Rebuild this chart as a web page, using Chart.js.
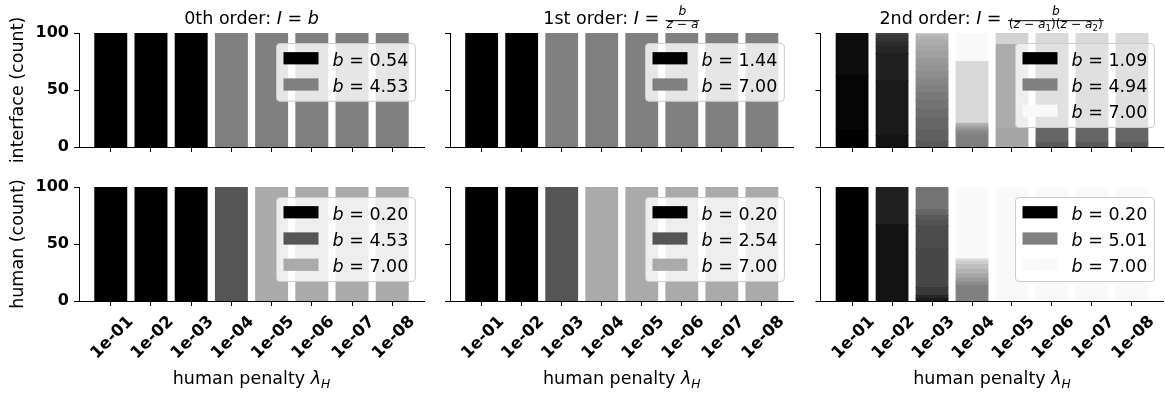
<!DOCTYPE html>
<html>
<head>
<meta charset="utf-8">
<script src="https://cdn.jsdelivr.net/npm/chart.js@4.4.1/dist/chart.umd.min.js"></script>
<style>
  html, body { margin: 0; padding: 0; background: #fff; }
  #fig { position: relative; width: 1165px; height: 395px; overflow: hidden; background: #fff; }
  #fig canvas { position: absolute; left: 0; top: 0; }
</style>
</head>
<body>
<div id="fig"></div>
<script>
// ---------------------------------------------------------------------------
// Data
// ---------------------------------------------------------------------------
const LAMBDA_LABELS = ['1e-01', '1e-02', '1e-03', '1e-04', '1e-05', '1e-06', '1e-07', '1e-08'];

// 0th order model, fitted b per run (rows: distinct b, ascending; cols: lambda_H)
const B0_INTERFACE = [0.54, 4.53];
const COUNTS0_INTERFACE = [
  [100, 100, 100, 0, 0, 0, 0, 0],
  [0, 0, 0, 100, 100, 100, 100, 100],
];
const B0_HUMAN = [0.20, 4.53, 7.00];
const COUNTS0_HUMAN = [
  [100, 100, 100, 0, 0, 0, 0, 0],
  [0, 0, 0, 100, 0, 0, 0, 0],
  [0, 0, 0, 0, 100, 100, 100, 100],
];

// 1st order model
const B1_INTERFACE = [1.44, 7.00];
const COUNTS1_INTERFACE = [
  [100, 100, 0, 0, 0, 0, 0, 0],
  [0, 0, 100, 100, 100, 100, 100, 100],
];
const B1_HUMAN = [0.20, 2.54, 7.00];
const COUNTS1_HUMAN = [
  [100, 100, 0, 0, 0, 0, 0, 0],
  [0, 0, 100, 0, 0, 0, 0, 0],
  [0, 0, 0, 100, 100, 100, 100, 100],
];

// 2nd order model: 40 distinct fitted b values (ascending); the legend names
// the smallest, the median and the largest of them.
const B2_INTERFACE_NAMED = [1.09, 4.94, 7.00];
const COUNTS2_INTERFACE = [
  [15, 0, 0, 0, 0, 0, 0, 0],
  [48, 0, 0, 0, 0, 0, 0, 0],
  [37, 0, 0, 0, 0, 0, 0, 0],
  [0, 10, 0, 0, 0, 0, 0, 0],
  [0, 48, 0, 0, 0, 0, 0, 0],
  [0, 24, 0, 0, 0, 0, 0, 0],
  [0, 6, 0, 0, 0, 0, 0, 0],
  [0, 4, 0, 0, 0, 0, 0, 0],
  [0, 3, 0, 0, 0, 0, 0, 0],
  [0, 3, 0, 0, 0, 0, 0, 0],
  [0, 2, 0, 0, 0, 0, 0, 0],
  [0, 0, 0, 0, 0, 0, 0, 0],
  [0, 0, 0, 0, 0, 0, 0, 0],
  [0, 0, 0, 0, 0, 0, 0, 0],
  [0, 0, 5, 0, 0, 4, 4, 4],
  [0, 0, 10, 0, 0, 0, 0, 0],
  [0, 0, 10, 0, 0, 86, 86, 86],
  [0, 0, 8, 0, 0, 0, 0, 0],
  [0, 0, 8, 0, 0, 0, 0, 0],
  [0, 0, 7, 0, 0, 0, 0, 0],
  [0, 0, 6, 11, 0, 0, 0, 0],
  [0, 0, 6, 2, 0, 0, 0, 0],
  [0, 0, 6, 2, 0, 0, 0, 0],
  [0, 0, 6, 0, 0, 0, 0, 0],
  [0, 0, 6, 2, 0, 0, 0, 0],
  [0, 0, 6, 0, 0, 0, 0, 0],
  [0, 0, 5, 2, 16, 0, 0, 0],
  [0, 0, 5, 0, 74, 0, 0, 0],
  [0, 0, 3, 2, 0, 0, 0, 0],
  [0, 0, 2, 0, 0, 0, 0, 0],
  [0, 0, 0, 0, 0, 0, 0, 0],
  [0, 0, 0, 0, 0, 0, 0, 0],
  [0, 0, 0, 0, 0, 0, 0, 0],
  [0, 0, 1, 0, 10, 0, 0, 0],
  [0, 0, 0, 54, 0, 10, 10, 10],
  [0, 0, 0, 0, 0, 0, 0, 0],
  [0, 0, 0, 0, 0, 0, 0, 0],
  [0, 0, 0, 0, 0, 0, 0, 0],
  [0, 0, 0, 0, 0, 0, 0, 0],
  [0, 0, 0, 25, 0, 0, 0, 0],
];
const B2_HUMAN_NAMED = [0.20, 5.01, 7.00];
const COUNTS2_HUMAN = [
  [100, 0, 0, 0, 0, 0, 0, 0],
  [0, 0, 0, 0, 0, 0, 0, 0],
  [0, 0, 0, 0, 0, 0, 0, 0],
  [0, 67, 0, 0, 0, 0, 0, 0],
  [0, 0, 2, 0, 0, 0, 0, 0],
  [0, 33, 0, 0, 0, 0, 0, 0],
  [0, 0, 3, 0, 0, 0, 0, 0],
  [0, 0, 0, 0, 0, 0, 0, 0],
  [0, 0, 0, 0, 0, 0, 0, 0],
  [0, 0, 7, 0, 0, 0, 0, 0],
  [0, 0, 0, 0, 0, 0, 0, 0],
  [0, 0, 34, 0, 0, 0, 0, 0],
  [0, 0, 20, 0, 0, 0, 0, 0],
  [0, 0, 5, 0, 0, 0, 0, 0],
  [0, 0, 4, 0, 0, 0, 0, 0],
  [0, 0, 0, 0, 0, 0, 0, 0],
  [0, 0, 5, 0, 0, 0, 0, 0],
  [0, 0, 0, 0, 0, 0, 0, 0],
  [0, 0, 20, 0, 0, 0, 0, 0],
  [0, 0, 0, 0, 0, 0, 0, 0],
  [0, 0, 0, 14, 0, 0, 0, 0],
  [0, 0, 0, 0, 0, 0, 0, 0],
  [0, 0, 0, 3, 0, 0, 0, 0],
  [0, 0, 0, 0, 0, 0, 0, 0],
  [0, 0, 0, 3, 0, 0, 0, 0],
  [0, 0, 0, 0, 0, 0, 0, 0],
  [0, 0, 0, 4, 0, 0, 0, 0],
  [0, 0, 0, 0, 0, 0, 0, 0],
  [0, 0, 0, 4, 0, 0, 0, 0],
  [0, 0, 0, 0, 0, 0, 0, 0],
  [0, 0, 0, 4, 0, 0, 0, 0],
  [0, 0, 0, 0, 0, 0, 0, 0],
  [0, 0, 0, 3, 0, 0, 0, 0],
  [0, 0, 0, 0, 0, 0, 0, 0],
  [0, 0, 0, 2, 0, 0, 0, 0],
  [0, 0, 0, 0, 0, 0, 0, 0],
  [0, 0, 0, 0, 0, 0, 0, 0],
  [0, 0, 0, 0, 0, 0, 0, 0],
  [0, 0, 0, 0, 0, 0, 0, 0],
  [0, 0, 0, 63, 100, 100, 100, 100],
];

// ---------------------------------------------------------------------------
// Text (runs: plain / italic / sub-scripted pieces, plus a fraction form)
// ---------------------------------------------------------------------------
const TITLE_0 = [{ t: '0th order: ' }, { t: 'I', it: true }, { t: ' = ' }, { t: 'b', it: true }];
const TITLE_1 = [{ t: '1st order: ' }, { t: 'I', it: true }, { t: ' = ' },
  { num: [{ t: 'b', it: true }], den: [{ t: 'z', it: true }, { t: ' − ' }, { t: 'a', it: true }] }];
const TITLE_2 = [{ t: '2nd order: ' }, { t: 'I', it: true }, { t: ' = ' },
  { num: [{ t: 'b', it: true }],
    den: [{ t: '(' }, { t: 'z', it: true }, { t: ' − ' }, { t: 'a', it: true }, { t: '1', s: 0.7, dy: 0.22 },
          { t: ')(' }, { t: 'z', it: true }, { t: ' − ' }, { t: 'a', it: true }, { t: '2', s: 0.7, dy: 0.22 }, { t: ')' }] }];
const Y_LABEL_TOP = [{ t: 'interface (count)' }];
const Y_LABEL_BOTTOM = [{ t: 'human (count)' }];
const X_LABEL = [{ t: 'human penalty ' }, { t: 'λ', it: true }, { t: 'H', it: true, s: 0.7, dy: 0.22 }];

// ---------------------------------------------------------------------------
// Layout and style
// ---------------------------------------------------------------------------
const W = 1165, H = 395;
const FAMILY = '"DejaVu Sans", "Liberation Sans", sans-serif';
const TEXT_SIZE = 17.5;
const TICK_SIZE = 16;
const XTICK_SIZE = 16.5;
const COLS = [[79, 424], [450, 793.5], [820.5, 1163.5]];   // plot-area x extents
const ROWS = [[33, 147], [187, 301]];                        // plot-area y extents

function cssFont(size, italic, bold) {
  return (italic ? 'italic ' : '') + (bold ? 'bold ' : '') + size + 'px ' + FAMILY;
}

// rank-based grey ramp, black for the smallest b
function greyFor(rank, n) {
  const v = Math.min(255, Math.floor(rank / n * 256));
  return 'rgb(' + v + ',' + v + ',' + v + ')';
}

function runWidth(ctx, r, size) {
  if (r.num) {
    const fs = size * 0.7;
    return Math.max(seqWidth(ctx, r.num, fs), seqWidth(ctx, r.den, fs)) + size * 0.2;
  }
  ctx.font = cssFont(size * (r.s || 1), r.it);
  return ctx.measureText(r.t).width;
}
function seqWidth(ctx, runs, size) {
  return runs.reduce((w, r) => w + runWidth(ctx, r, size), 0);
}
function drawSeq(ctx, runs, x, y, size) {
  for (const r of runs) {
    const w = runWidth(ctx, r, size);
    if (r.num) {
      const fs = size * 0.7;
      const bar = y - size * 0.19;
      const nw = seqWidth(ctx, r.num, fs), dw = seqWidth(ctx, r.den, fs);
      drawSeq(ctx, r.num, x + (w - nw) / 2, bar - size * 0.31, fs);
      drawSeq(ctx, r.den, x + (w - dw) / 2, bar + size * 0.42, fs);
      ctx.fillRect(x + size * 0.05, bar - 0.5, w - size * 0.1, 1);
    } else {
      ctx.font = cssFont(size * (r.s || 1), r.it);
      ctx.fillText(r.t, x, y + (r.dy || 0) * size);
    }
    x += w;
  }
}

function roundedBox(ctx, x, y, w, h, rad) {
  ctx.beginPath();
  ctx.moveTo(x + rad, y);
  ctx.lineTo(x + w - rad, y);
  ctx.arcTo(x + w, y, x + w, y + rad, rad);
  ctx.lineTo(x + w, y + h - rad);
  ctx.arcTo(x + w, y + h, x + w - rad, y + h, rad);
  ctx.lineTo(x + rad, y + h);
  ctx.arcTo(x, y + h, x, y + h - rad, rad);
  ctx.lineTo(x, y + rad);
  ctx.arcTo(x, y, x + rad, y, rad);
  ctx.closePath();
}

function drawLegend(ctx, a, entries) {
  const F = TEXT_SIZE;
  const pad = 0.4 * F, hl = 2 * F, hh = 0.7 * F, gap = 0.8 * F, sp = 0.5 * F, edge = 0.55 * F;
  const runsOf = e => [{ t: 'b', it: true }, { t: ' = ' + e.b.toFixed(2) }];
  const tw = Math.max(...entries.map(e => seqWidth(ctx, runsOf(e), F)));
  const bw = pad + hl + gap + tw + pad;
  const bh = 2 * pad + entries.length * F + (entries.length - 1) * sp;
  const x0 = Math.round(a.right - edge - bw) + 0.5, y0 = Math.round(a.top + edge) + 0.5;
  ctx.save();
  roundedBox(ctx, x0, y0, bw, bh, 0.2 * F);
  ctx.fillStyle = 'rgba(255,255,255,0.8)';
  ctx.fill();
  ctx.strokeStyle = '#cccccc';
  ctx.lineWidth = 1;
  ctx.stroke();
  ctx.textAlign = 'left';
  ctx.textBaseline = 'alphabetic';
  entries.forEach((e, i) => {
    const cy = y0 + pad + F / 2 + i * (F + sp);
    ctx.fillStyle = e.color;
    ctx.fillRect(x0 + pad, cy - hh / 2 - 1, hl, hh);
    ctx.fillStyle = '#000';
    drawSeq(ctx, runsOf(e), x0 + pad + hl + gap, cy + 0.36 * F, F);
  });
  ctx.restore();
}

function makeDecor(spec) {
  return {
    id: 'decor',
    afterDraw(chart) {
      const ctx = chart.ctx, a = chart.chartArea;
      const cx = (a.left + a.right) / 2;
      ctx.save();
      ctx.fillStyle = '#000';
      ctx.textAlign = 'left';
      ctx.textBaseline = 'alphabetic';
      if (spec.title) {
        const w = seqWidth(ctx, spec.title, TEXT_SIZE);
        drawSeq(ctx, spec.title, cx - w / 2, a.top - 9, TEXT_SIZE);
      }
      if (spec.xlabel) {
        const w = seqWidth(ctx, spec.xlabel, TEXT_SIZE);
        drawSeq(ctx, spec.xlabel, cx - w / 2, a.bottom + 83, TEXT_SIZE);
      }
      if (spec.ylabel) {
        ctx.translate(23, (a.top + a.bottom) / 2);
        ctx.rotate(-Math.PI / 2);
        const w = seqWidth(ctx, spec.ylabel, TEXT_SIZE);
        drawSeq(ctx, spec.ylabel, -w / 2, 0, TEXT_SIZE);
      }
      ctx.restore();
      if (spec.legend) drawLegend(ctx, a, spec.legend);
    }
  };
}

// legend rows: all distinct values for the short lists, min/median/max otherwise
function legendAll(bs, n) {
  return bs.map((b, i) => ({ b, color: greyFor(i, n) }));
}
function legendNamed(bs, n) {
  const ranks = [0, Math.floor(n / 2), n - 1];
  return bs.map((b, i) => ({ b, color: greyFor(ranks[i], n) }));
}

const PANELS = [
  { col: 0, row: 0, counts: COUNTS0_INTERFACE, legend: legendAll(B0_INTERFACE, COUNTS0_INTERFACE.length), title: TITLE_0, ylabel: Y_LABEL_TOP },
  { col: 1, row: 0, counts: COUNTS1_INTERFACE, legend: legendAll(B1_INTERFACE, COUNTS1_INTERFACE.length), title: TITLE_1 },
  { col: 2, row: 0, counts: COUNTS2_INTERFACE, legend: legendNamed(B2_INTERFACE_NAMED, COUNTS2_INTERFACE.length), title: TITLE_2 },
  { col: 0, row: 1, counts: COUNTS0_HUMAN, legend: legendAll(B0_HUMAN, COUNTS0_HUMAN.length), ylabel: Y_LABEL_BOTTOM, xlabel: X_LABEL },
  { col: 1, row: 1, counts: COUNTS1_HUMAN, legend: legendAll(B1_HUMAN, COUNTS1_HUMAN.length), xlabel: X_LABEL },
  { col: 2, row: 1, counts: COUNTS2_HUMAN, legend: legendNamed(B2_HUMAN_NAMED, COUNTS2_HUMAN.length), xlabel: X_LABEL },
];

const fig = document.getElementById('fig');

PANELS.forEach(p => {
  const [left, right] = COLS[p.col];
  const [top, bottom] = ROWS[p.row];
  const yW = p.col === 0 ? left : 12;
  const xH = p.row === 1 ? H - bottom : 12;
  const n = p.counts.length;

  const canvas = document.createElement('canvas');
  canvas.width = W;
  canvas.height = H;
  fig.appendChild(canvas);

  const datasets = p.counts.map((row, r) => ({
    label: 'rank ' + r,
    data: row.map((c, i) => ({ x: i, y: c > 0 ? c : null })),
    backgroundColor: greyFor(r, n),
    borderWidth: 0,
    stack: 'runs',
    barPercentage: 0.8,
    categoryPercentage: 1,
    inflateAmount: 0.4,
  }));

  const axisLine = { display: true, color: '#000', width: 1 };
  const tickMarks = { display: true, drawOnChartArea: false, drawTicks: true, tickLength: 5, color: '#000', lineWidth: 1, offset: false };

  new Chart(canvas, {
    type: 'bar',
    data: { datasets },
    options: {
      responsive: false,
      animation: false,
      events: [],
      layout: { padding: { left: left - yW, right: W - right, top: top, bottom: H - bottom - xH } },
      plugins: { legend: { display: false }, tooltip: { enabled: false }, title: { display: false } },
      scales: {
        x: {
          type: 'linear', min: -0.79, max: 7.79, offset: false, stacked: true, z: 1,
          afterBuildTicks: s => { s.ticks = LAMBDA_LABELS.map((_, i) => ({ value: i })); },
          afterFit: s => { s.height = xH; },
          grid: tickMarks,
          border: axisLine,
          ticks: {
            display: p.row === 1, autoSkip: false, minRotation: 45, maxRotation: 45,
            labelOffset: 20, padding: 6, color: '#000',
            font: { family: FAMILY, size: XTICK_SIZE, weight: 'bold' },
            callback: v => LAMBDA_LABELS[v],
          },
        },
        y: {
          type: 'linear', min: 0, max: 100, stacked: true, z: 1,
          afterFit: s => { s.width = yW; },
          grid: tickMarks,
          border: axisLine,
          ticks: {
            display: p.col === 0, stepSize: 50, padding: 5, color: '#000',
            font: { family: FAMILY, size: TICK_SIZE, weight: 'bold' },
          },
        },
      },
    },
    plugins: [makeDecor({ title: p.title, xlabel: p.xlabel, ylabel: p.ylabel, legend: p.legend })],
  });
});
</script>
</body>
</html>
